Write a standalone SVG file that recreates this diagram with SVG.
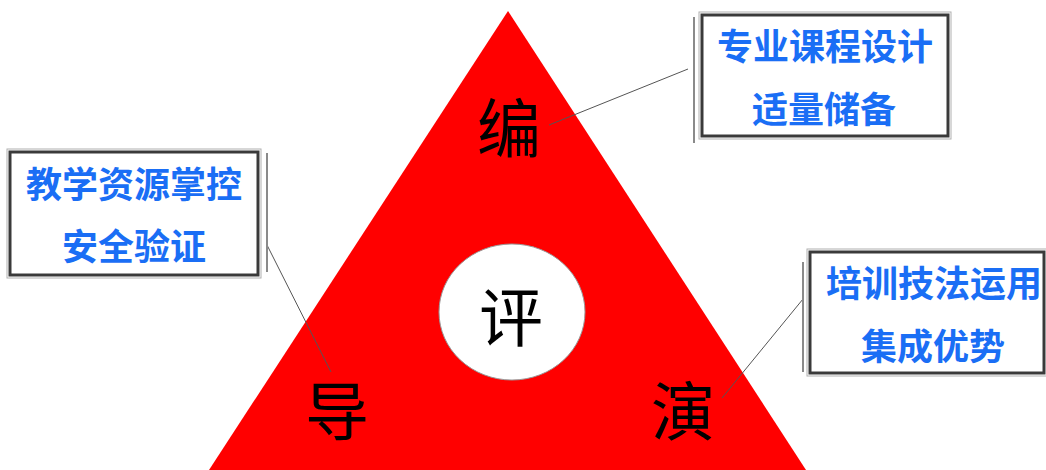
<svg xmlns="http://www.w3.org/2000/svg" width="1046" height="470" viewBox="0 0 1046 470">
  <style>
    .box { fill: #ffffff; stroke: #3a3a3a; stroke-width: 3; }
    .boxshadow { fill: none; stroke: #b0b0b0; stroke-width: 1; }
    .side { stroke: #8a8a8a; stroke-width: 2; fill: none; }
    .btxt { font-family: "Noto Sans CJK SC", "Noto Sans", sans-serif; font-weight: bold; font-size: 36px; fill: #1a6ef5; text-anchor: middle; dominant-baseline: central; }
    .big { font-family: "Noto Sans CJK SC", "Noto Sans", sans-serif; font-size: 64px; fill: #000000; text-anchor: middle; dominant-baseline: central; }
    .conn { stroke: #555555; stroke-width: 1; fill: none; }
  </style>
  <rect width="1046" height="470" fill="#ffffff"/>
  <g id="triangle">
    <polygon points="508,11 209,470 806,470" fill="#ff0000"/>
  </g>
  <g id="center-eval">
    <ellipse cx="512" cy="312" rx="73" ry="68" fill="#ffffff" stroke="#999999" stroke-width="1"/>
    <text class="big" x="511" y="313">评</text>
  </g>
  <g id="node-bian">
    <text class="big" x="509" y="124">编</text>
  </g>
  <g id="node-dao">
    <text class="big" x="337" y="407">导</text>
  </g>
  <g id="node-yan">
    <text class="big" x="683" y="407">演</text>
  </g>
  <g id="connectors">
    <line class="conn" x1="549" y1="125" x2="688" y2="69"/>
    <line class="conn" x1="267" y1="245" x2="331" y2="372"/>
    <line class="conn" x1="722" y1="398" x2="803" y2="299"/>
  </g>
  <g id="box-top">
    <rect class="boxshadow" x="699" y="12" width="252" height="127"/>
    <rect class="box" x="702" y="15" width="246" height="121"/>
    <line class="side" x1="694" y1="17" x2="694" y2="143"/>
    <text class="btxt" x="825" y="44">专业课程设计</text>
    <text class="btxt" x="824" y="107">适量储备</text>
  </g>
  <g id="box-left">
    <rect class="boxshadow" x="7" y="149" width="254" height="129"/>
    <rect class="box" x="10" y="152" width="248" height="123"/>
    <line class="side" x1="267" y1="153" x2="267" y2="272"/>
    <text class="btxt" x="134" y="182">教学资源掌控</text>
    <text class="btxt" x="134" y="244">安全验证</text>
  </g>
  <g id="box-right">
    <rect class="boxshadow" x="807" y="249" width="241" height="127"/>
    <rect class="box" x="810" y="252" width="234" height="121"/>
    <line class="side" x1="803" y1="262" x2="803" y2="372"/>
    <text class="btxt" x="934" y="281">培训技法运用</text>
    <text class="btxt" x="933" y="344">集成优势</text>
  </g>
</svg>
